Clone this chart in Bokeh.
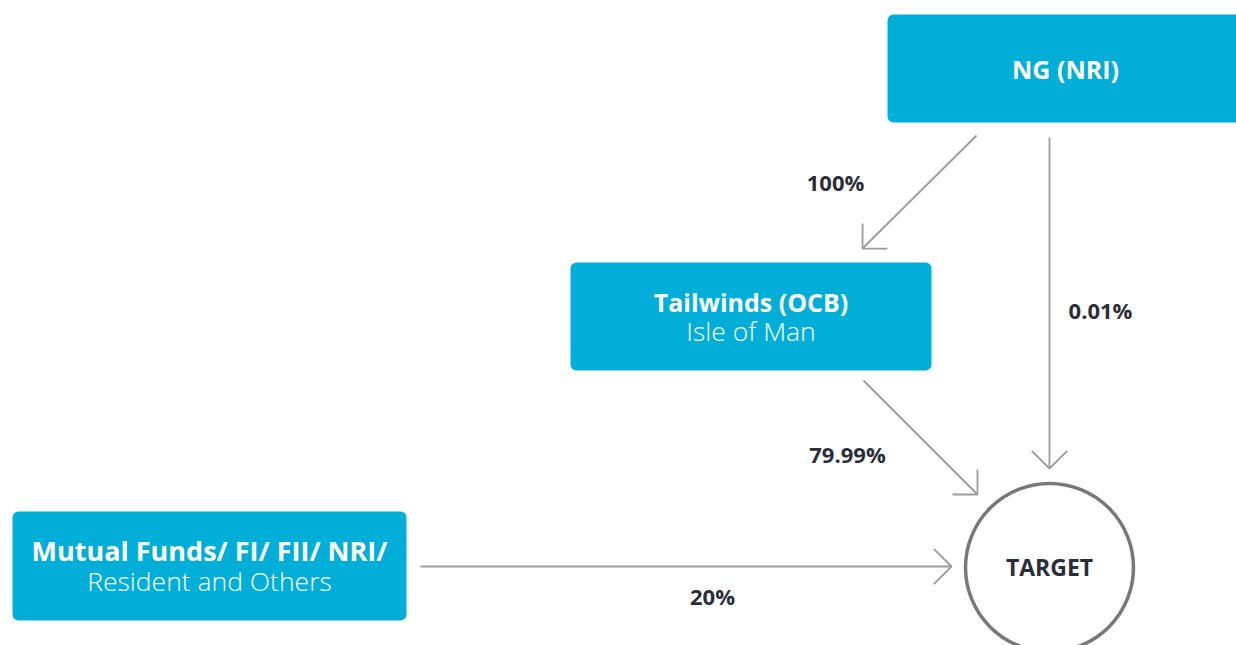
import numpy as np
from bokeh.plotting import figure
from bokeh.models import Range1d, ColumnDataSource
from bokeh.core.properties import value
from bokeh.embed import file_html
from bokeh.resources import INLINE

# ---- data ----
node_titles = ["NG (NRI)", "Tailwinds (OCB)", "Mutual Funds/ FI/ FII/ NRI/"]
node_subtitles = ["", "Isle of Man", "Resident and Others"]
target_label = "TARGET"
edge_from = ["NG (NRI)", "NG (NRI)", "Tailwinds (OCB)", "Mutual Funds/ FI/ FII/ NRI/"]
edge_to = ["Tailwinds (OCB)", "TARGET", "TARGET", "TARGET"]
edge_pct = ["100%", "0.01%", "79.99%", "20%"]

# ---- layout (pixel space of the page) ----
box_left = [887, 570, 12]
box_right = [1243, 931, 406]
box_top = [14, 262, 511]
box_bottom = [122, 370, 620]
title_y = [68, 301, 550]
title_size = ["25px", "25px", "27px"]
sub_y = [0, 330, 580]
target_xy = (1049, 567)
target_r = 84
edge_x0 = [976, 1049, 863, 420]
edge_y0 = [135, 137, 380, 566]
edge_x1 = [862, 1049, 977, 951]
edge_y1 = [248, 468, 494, 566]
pct_x = [835, 1100, 847, 712]
pct_y = [181, 309, 453, 595]

FONT = "Open Sans"
BLUE = "#00AED8"
DARK = "#2B2E3A"
GREY = "#9B9B9B"

W, H = 1236, 645
p = figure(width=W, height=H, output_backend="svg", toolbar_location=None,
           x_range=Range1d(0, W), y_range=Range1d(H, 0),
           min_border=0)
p.axis.visible = False
p.grid.visible = False
p.outline_line_color = None
p.background_fill_color = "white"
p.border_fill_color = "white"

# boxes
p.quad(left=box_left, right=box_right, top=box_top, bottom=box_bottom,
       fill_color=BLUE, line_color=None, border_radius=6)

cx = [(l + r) / 2 for l, r in zip(box_left, box_right)]
tsrc = ColumnDataSource(dict(x=cx, y=title_y, t=node_titles, s=title_size))
p.text(x="x", y="y", text="t", text_font_size="s", source=tsrc,
       text_font=value(FONT), text_font_style="bold", text_color="white",
       text_align="center", text_baseline="middle")
sx = [c for c, s in zip(cx, node_subtitles) if s]
sy = [y for y, s in zip(sub_y, node_subtitles) if s]
st = [s for s in node_subtitles if s]
p.text(x=sx, y=sy, text=st, text_font=value("Open Sans Light"),
       text_font_size="26.5px", text_color="white",
       text_align="center", text_baseline="middle")

# target circle
p.circle(x=[target_xy[0]], y=[target_xy[1]], radius=target_r,
         fill_color="white", line_color="#787878", line_width=3.5)
p.text(x=[target_xy[0]], y=[target_xy[1] - 1], text=[target_label],
       text_font=value(FONT), text_font_style="bold", text_font_size="23px",
       text_color=DARK, text_align="center", text_baseline="middle")

# edges
p.segment(x0=edge_x0, y0=edge_y0, x1=edge_x1, y1=edge_y1,
          line_color=GREY, line_width=1.8)
hx, hy = [], []
L = 25.0
for x0, y0, x1, y1 in zip(edge_x0, edge_y0, edge_x1, edge_y1):
    d = np.array([x1 - x0, y1 - y0], float)
    d /= np.linalg.norm(d)
    pts = []
    for ang in (np.pi / 4, -np.pi / 4):
        c, s = np.cos(ang), np.sin(ang)
        r = np.array([c * d[0] - s * d[1], s * d[0] + c * d[1]])
        pts.append((x1 - L * r[0], y1 - L * r[1]))
    hx.append([pts[0][0], x1, pts[1][0]])
    hy.append([pts[0][1], y1, pts[1][1]])
p.multi_line(xs=hx, ys=hy, line_color=GREY, line_width=1.8)

p.text(x=pct_x, y=pct_y, text=edge_pct, text_font=value(FONT),
       text_font_style="bold", text_font_size="22px", text_color=DARK,
       text_align="center", text_baseline="middle")

open("out.html", "w").write(file_html(p, INLINE))
